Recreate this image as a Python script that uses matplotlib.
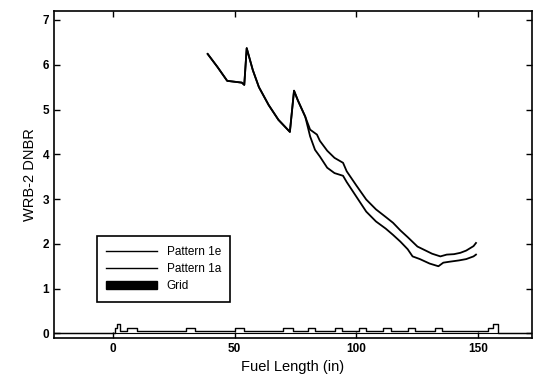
import numpy as np
import matplotlib.pyplot as plt
from matplotlib.patches import Patch
from matplotlib.lines import Line2D

plt.rcParams['font.family'] = ['Liberation Sans', 'DejaVu Sans']

# Pattern 1e (upper curve)
x_1e = [39, 43, 47, 50, 53, 54, 55, 57.5, 60, 64, 68, 72.7, 74.4, 76, 79, 81, 83.8, 85,
        88, 91, 94.5, 96, 100, 104, 108, 112, 115, 118, 121, 125, 128, 131, 134.4, 137,
        140, 142.6, 145, 148, 149]
y_1e = [6.24, 5.95, 5.64, 5.62, 5.6, 5.55, 6.37, 5.88, 5.5, 5.1, 4.77, 4.5, 5.42, 5.2, 4.84,
        4.55, 4.44, 4.3, 4.08, 3.92, 3.81, 3.62, 3.3, 2.99, 2.77, 2.6, 2.47, 2.3, 2.15,
        1.94, 1.86, 1.78, 1.72, 1.76, 1.77, 1.8, 1.85, 1.95, 2.02]

# Pattern 1a (lower curve)
x_1a = [39, 43, 47, 50, 53, 54, 55, 57.5, 60, 64, 68, 72.7, 74.4, 76, 79, 81, 83, 85, 88,
        91, 94.5, 96, 100, 104, 108, 112, 115, 118, 121, 123, 126, 130, 133.6, 135.6,
        138, 142, 145, 148, 149]
y_1a = [6.24, 5.95, 5.64, 5.62, 5.6, 5.55, 6.37, 5.88, 5.5, 5.1, 4.77, 4.5, 5.42, 5.2, 4.84,
        4.4, 4.1, 3.95, 3.7, 3.58, 3.52, 3.38, 3.05, 2.72, 2.5, 2.34, 2.2, 2.05, 1.88,
        1.72, 1.66, 1.56, 1.5, 1.58, 1.6, 1.63, 1.66, 1.72, 1.76]

# Grid spacer profile
x_grid = [-24, 1, 1, 2, 2, 3, 3, 6, 6, 10, 10, 30, 30, 34, 34, 50, 50, 54, 54, 70, 70,
          74, 74, 80, 80, 83, 83, 91, 91, 94, 94, 101, 101, 104, 104, 111, 111, 114, 114,
          121, 121, 124, 124, 132, 132, 135, 135, 154, 154, 156, 156, 158, 158, 172]
y_grid = [0.02, 0.02, 0.12, 0.12, 0.2, 0.2, 0.06, 0.06, 0.12, 0.12, 0.06, 0.06, 0.12, 0.12,
          0.06, 0.06, 0.12, 0.12, 0.06, 0.06, 0.12, 0.12, 0.06, 0.06, 0.12, 0.12, 0.06,
          0.06, 0.12, 0.12, 0.06, 0.06, 0.12, 0.12, 0.06, 0.06, 0.12, 0.12, 0.06, 0.06,
          0.12, 0.12, 0.06, 0.06, 0.12, 0.12, 0.06, 0.06, 0.12, 0.12, 0.2, 0.2, 0.02, 0.02]

fig = plt.figure(figsize=(5.38, 3.92), dpi=100)
ax = fig.add_axes([0.1004, 0.138, 0.8886, 0.834])

ax.plot(x_1e, y_1e, color='black', lw=1.3)
ax.plot(x_1a, y_1a, color='black', lw=1.3)
ax.plot(x_grid, y_grid, color='black', lw=1.0)
ax.axhline(0.0, color='black', lw=0.8)

ax.set_xlim(-24, 172)
ax.set_ylim(-0.1, 7.2)
ax.set_xticks([0, 50, 100, 150])
ax.set_yticks(range(0, 8))
ax.tick_params(direction='in', top=True, right=True, length=4, width=1,
               labelsize=8.5)
for lbl in ax.get_xticklabels() + ax.get_yticklabels():
    lbl.set_fontweight('bold')
for sp in ax.spines.values():
    sp.set_linewidth(1.2)

ax.set_xlabel('Fuel Length (in)', fontsize=10.5)
ax.set_ylabel('WRB-2 DNBR', fontsize=10.5, labelpad=4)

handles = [Line2D([0], [0], color='black', lw=1),
           Line2D([0], [0], color='black', lw=1),
           Patch(facecolor='black', edgecolor='black')]
leg = ax.legend(handles, ['Pattern 1e', 'Pattern 1a', 'Grid'],
                loc='lower left', bbox_to_anchor=(0.09, 0.11), fontsize=8.5,
                fancybox=False, edgecolor='black', framealpha=1,
                handlelength=4.3, borderpad=0.8, labelspacing=0.45,
                borderaxespad=0)
leg.get_frame().set_linewidth(1.2)

fig.savefig('out.png', dpi=100)
